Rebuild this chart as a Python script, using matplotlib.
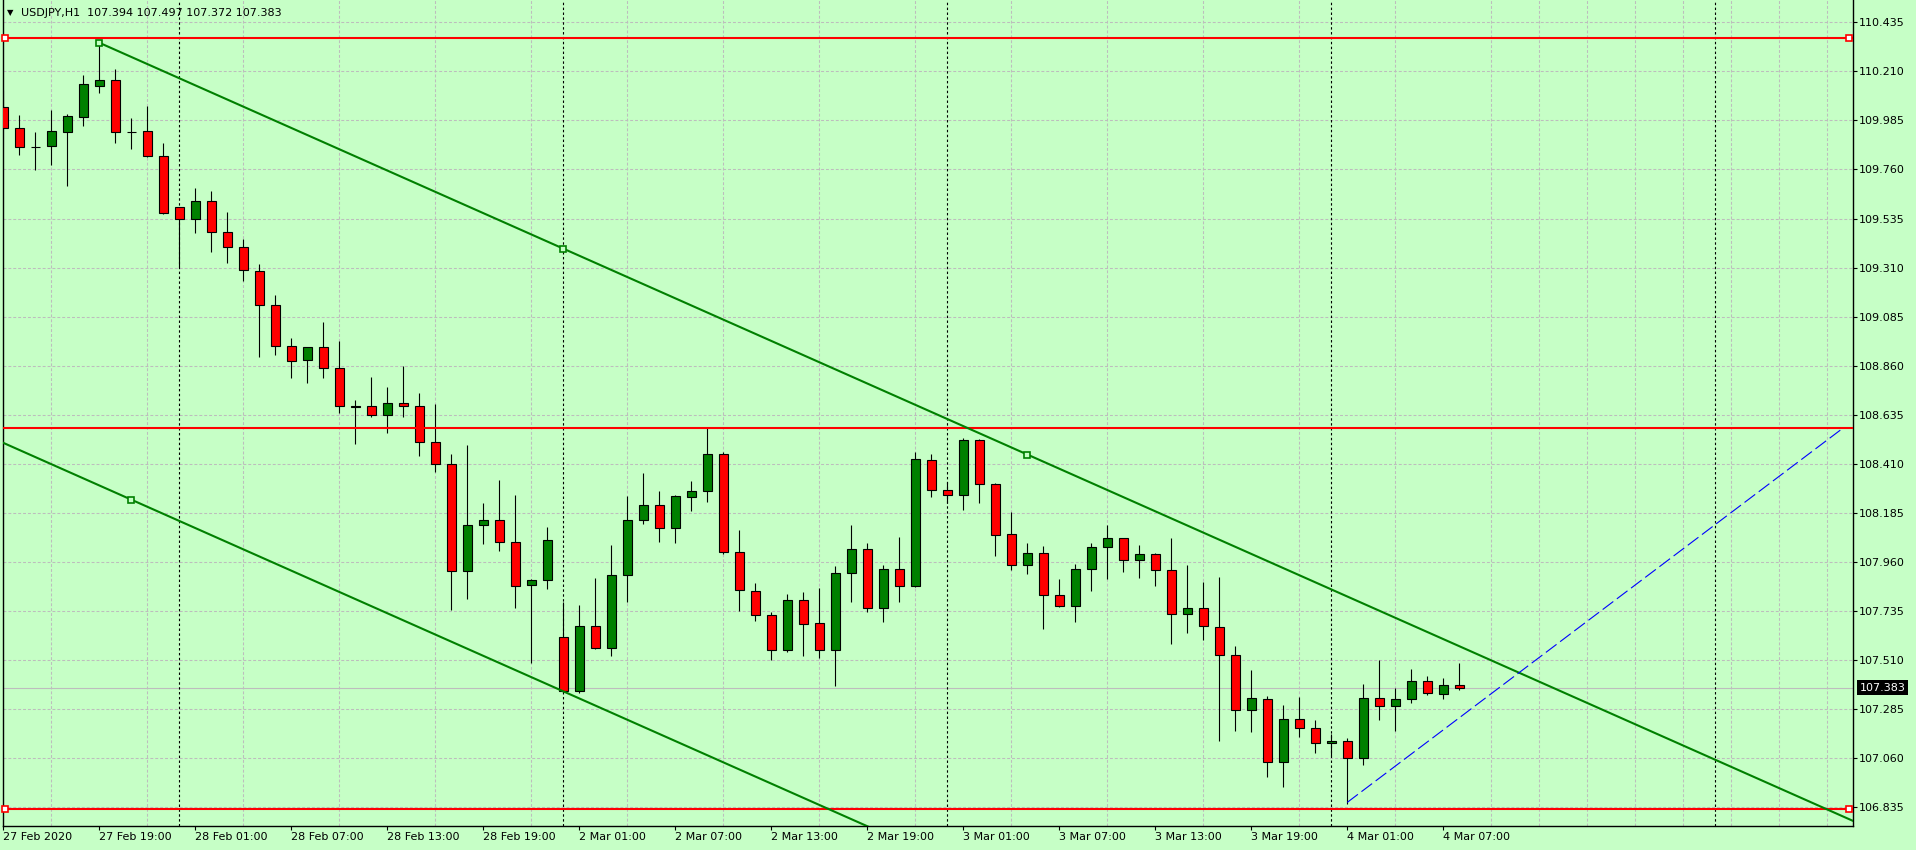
"""USDJPY H1 : bougies, canal et niveaux, à la manière de MetaTrader."""
import matplotlib

matplotlib.use("Agg")  # Pas d'affichage
import matplotlib.pyplot as plt
import numpy as np
from matplotlib.transforms import blended_transform_factory

BG = "#C6FFC6"
BULL, BEAR = "#008000", "#FF0000"
GRID = "#BDBDBD"

# Bougies H1, du 27 Feb 13:00 au 4 Mar 08:00 (week-end sauté)
OPEN = [110.048, 109.949, 109.864, 109.866, 109.933, 110.002, 110.144, 110.169, 109.933, 109.935,
        109.820, 109.587, 109.532, 109.614, 109.472, 109.403, 109.293, 109.137, 108.949, 108.885,
        108.945, 108.848, 108.674, 108.674, 108.633, 108.688, 108.674, 108.512, 108.411, 107.920,
        108.129, 108.151, 108.053, 107.853, 107.878, 107.615, 107.370, 107.665, 107.567, 107.899,
        108.151, 108.220, 108.117, 108.258, 108.284, 108.454, 108.007, 107.828, 107.715, 107.555,
        107.785, 107.680, 107.555, 107.908, 108.018, 107.748, 107.927, 107.849, 108.429, 108.289,
        108.266, 108.518, 108.317, 108.088, 107.948, 108.000, 107.808, 107.757, 107.927, 108.027,
        108.069, 107.968, 107.996, 107.922, 107.720, 107.748, 107.663, 107.532, 107.283, 107.333,
        107.042, 107.239, 107.200, 107.129, 107.138, 107.060, 107.335, 107.299, 107.331, 107.413,
        107.356, 107.394]
HIGH = [110.124, 110.010, 109.930, 110.033, 110.013, 110.193, 110.341, 110.221, 109.995, 110.051,
        109.880, 109.590, 109.674, 109.661, 109.565, 109.441, 109.325, 109.184, 108.987, 108.947,
        109.061, 108.974, 108.702, 108.807, 108.764, 108.859, 108.734, 108.685, 108.455, 108.497,
        108.231, 108.336, 108.267, 107.880, 108.121, 107.775, 107.763, 107.887, 108.038, 108.263,
        108.368, 108.286, 108.267, 108.332, 108.573, 108.465, 108.107, 107.864, 107.731, 107.814,
        107.823, 107.840, 107.942, 108.130, 108.046, 107.946, 108.075, 108.463, 108.455, 108.326,
        108.527, 108.522, 108.321, 108.188, 108.046, 108.032, 107.881, 107.950, 108.046, 108.129,
        108.071, 108.037, 108.000, 108.069, 107.945, 107.867, 107.890, 107.574, 107.464, 107.344,
        107.303, 107.340, 107.235, 107.170, 107.152, 107.400, 107.510, 107.381, 107.468, 107.436,
        107.427, 107.497]
LOW = [109.945, 109.826, 109.758, 109.781, 109.686, 109.959, 110.112, 109.883, 109.855, 109.818,
       109.557, 109.311, 109.470, 109.383, 109.333, 109.250, 108.902, 108.911, 108.805, 108.782,
       108.805, 108.645, 108.503, 108.626, 108.553, 108.626, 108.446, 108.373, 107.740, 107.791,
       108.043, 108.011, 107.749, 107.497, 107.836, 107.358, 107.358, 107.563, 107.529, 107.777,
       108.134, 108.052, 108.047, 108.194, 108.235, 107.998, 107.737, 107.691, 107.511, 107.546,
       107.531, 107.519, 107.393, 107.778, 107.732, 107.687, 107.778, 107.845, 108.260, 108.232,
       108.200, 108.232, 107.989, 107.925, 107.907, 107.654, 107.752, 107.687, 107.829, 107.882,
       107.916, 107.888, 107.852, 107.586, 107.636, 107.604, 107.141, 107.187, 107.182, 106.973,
       106.927, 107.156, 107.083, 107.069, 106.851, 107.028, 107.235, 107.184, 107.312, 107.349,
       107.331, 107.372]
CLOSE = [109.949, 109.862, 109.862, 109.935, 110.004, 110.151, 110.169, 109.933, 109.931, 109.820,
         109.559, 109.532, 109.614, 109.472, 109.403, 109.298, 109.137, 108.949, 108.880, 108.945,
         108.848, 108.674, 108.673, 108.633, 108.688, 108.674, 108.512, 108.411, 107.920, 108.129,
         108.151, 108.053, 107.852, 107.878, 108.060, 107.370, 107.665, 107.567, 107.899, 108.151,
         108.220, 108.117, 108.261, 108.284, 108.454, 108.007, 107.830, 107.715, 107.555, 107.785,
         107.675, 107.555, 107.908, 108.018, 107.748, 107.927, 107.849, 108.431, 108.289, 108.266,
         108.518, 108.317, 108.083, 107.945, 108.000, 107.808, 107.757, 107.927, 108.028, 108.069,
         107.968, 107.996, 107.922, 107.720, 107.748, 107.665, 107.532, 107.280, 107.335, 107.042,
         107.239, 107.198, 107.129, 107.138, 107.060, 107.335, 107.299, 107.331, 107.413, 107.358,
         107.394, 107.383]

# Une étiquette toutes les 6 bougies
DATE_LABELS = ["27 Feb 2020", "27 Feb 19:00", "28 Feb 01:00", "28 Feb 07:00", "28 Feb 13:00",
               "28 Feb 19:00", "2 Mar 01:00", "2 Mar 07:00", "2 Mar 13:00", "2 Mar 19:00",
               "3 Mar 01:00", "3 Mar 07:00", "3 Mar 13:00", "3 Mar 19:00", "4 Mar 01:00",
               "4 Mar 07:00"]
PRICE_TICKS = [106.835, 107.060, 107.285, 107.510, 107.735, 107.960, 108.185, 108.410, 108.635,
               108.860, 109.085, 109.310, 109.535, 109.760, 109.985, 110.210, 110.435]
DAY_STARTS = [11, 35, 59, 83, 107]  # séparateurs de jours (index de bougie)

# Objets graphiques
LEVELS = [110.364, 108.575, 106.828]            # lignes horizontales rouges
CHANNEL_T, CHANNEL_P = [6, 35], [110.341, 109.397]  # ligne haute du canal
CHANNEL_T3, CHANNEL_P3 = 8, 108.246             # point de la parallèle
CHANNEL_MID_T = 64                               # marqueur sur la ligne haute
BLUE_T, BLUE_P = [84, 115], [106.858, 108.575]   # ligne pointillée bleue
XMIN, XMAX = -0.05, 115.59
YMIN, YMAX = 106.751, 110.537

##################################################
fig = plt.figure(figsize=(19.16, 8.5), dpi=100, facecolor=BG)
ax = fig.add_axes([2.5 / 1916, 24.3 / 850, 1850.2 / 1916, 825.7 / 850], facecolor=BG)

x = np.arange(len(OPEN))
o, h, l, c = map(np.array, (OPEN, HIGH, LOW, CLOSE))
up = c > o
ax.vlines(x, l, h, color="black", lw=0.8, zorder=3)
ax.bar(x, np.abs(c - o), bottom=np.minimum(o, c), width=0.56, color=np.where(up, BULL, BEAR),
       edgecolor="black", linewidth=0.8, zorder=4)

# Grille et séparateurs de jours
ax.set_axisbelow(True)
ax.grid(axis="y", color=GRID, ls=(0, (2.8, 1.9)), lw=0.75)
ax.set_xticks(np.arange(0, 116, 3), minor=True)
ax.grid(axis="x", which="minor", color=GRID, ls=(0, (2.8, 1.9)), lw=0.75)
for d in DAY_STARTS:
	ax.axvline(d, color="black", ls=(0, (2.2, 2.2)), lw=0.8, zorder=2)

# Prix courant
last = CLOSE[-1]
ax.axhline(last, color=GRID, lw=0.8, zorder=1.5)

# Niveaux rouges
for i, lev in enumerate(LEVELS):
	ax.axhline(lev, color="red", lw=1.5, zorder=6)
	if i != 1:
		ax.plot([0.1, 115.35], [lev, lev], ls="none", marker="s", ms=3.8, mfc="white", mec="red",
		        mew=1.2, zorder=7, clip_on=False)

# Canal équidistant
slope = (CHANNEL_P[1] - CHANNEL_P[0]) / (CHANNEL_T[1] - CHANNEL_T[0])
tt = np.array([CHANNEL_T[0], XMAX])
ax.plot(tt, CHANNEL_P[0] + slope * (tt - CHANNEL_T[0]), color="#008000", lw=1.5, zorder=6)
tt = np.array([XMIN, XMAX])
ax.plot(tt, CHANNEL_P3 + slope * (tt - CHANNEL_T3), color="#008000", lw=1.5, zorder=6)
mt = [CHANNEL_T[0], CHANNEL_T[1], CHANNEL_MID_T]
mp = [CHANNEL_P[0], CHANNEL_P[1], CHANNEL_P[0] + slope * (CHANNEL_MID_T - CHANNEL_T[0])]
ax.plot(mt + [CHANNEL_T3], mp + [CHANNEL_P3], ls="none", marker="s", ms=3.8, mfc=BG, mec="#008000",
        mew=1.2, zorder=7)

# Ligne bleue
ax.plot(BLUE_T, BLUE_P, color="blue", lw=0.8, ls=(0, (12, 4)), zorder=6)

ax.set_xlim(XMIN, XMAX)
ax.set_ylim(YMIN, YMAX)

# Axes façon MT4
ax.yaxis.tick_right()
ax.set_yticks(PRICE_TICKS)
ax.set_yticklabels([f"{p:.3f}" for p in PRICE_TICKS])
ax.set_xticks(np.arange(len(DATE_LABELS)) * 6)
ax.set_xticklabels(DATE_LABELS, ha="left")
ax.tick_params(axis="both", which="major", length=3, width=0.8, colors="black", labelsize=8, pad=1.5)
ax.tick_params(axis="x", which="minor", length=0)
ax.spines["top"].set_visible(False)
for s in ("left", "right", "bottom"):
	ax.spines[s].set_linewidth(1.0)

# Étiquette du prix courant
trans = blended_transform_factory(ax.transAxes, ax.transData)
ax.text(1.0036, last, f"{last:.3f}", transform=trans, color="white", fontsize=8, va="center",
        ha="left", bbox=dict(boxstyle="square,pad=0.22", fc="black", ec="none"), zorder=8)

# Titre en haut à gauche
ypos = 1 - 12.7 / 850
fig.text(7 / 1916, ypos, "▼", fontsize=6, va="center", color="black")
fig.text(21 / 1916, ypos, f"USDJPY,H1  {OPEN[-1]:.3f} {HIGH[-1]:.3f} {LOW[-1]:.3f} {CLOSE[-1]:.3f}",
         fontsize=8, va="center", color="black")

fig.savefig("out.png", dpi=100, facecolor=BG)
plt.close(fig)
